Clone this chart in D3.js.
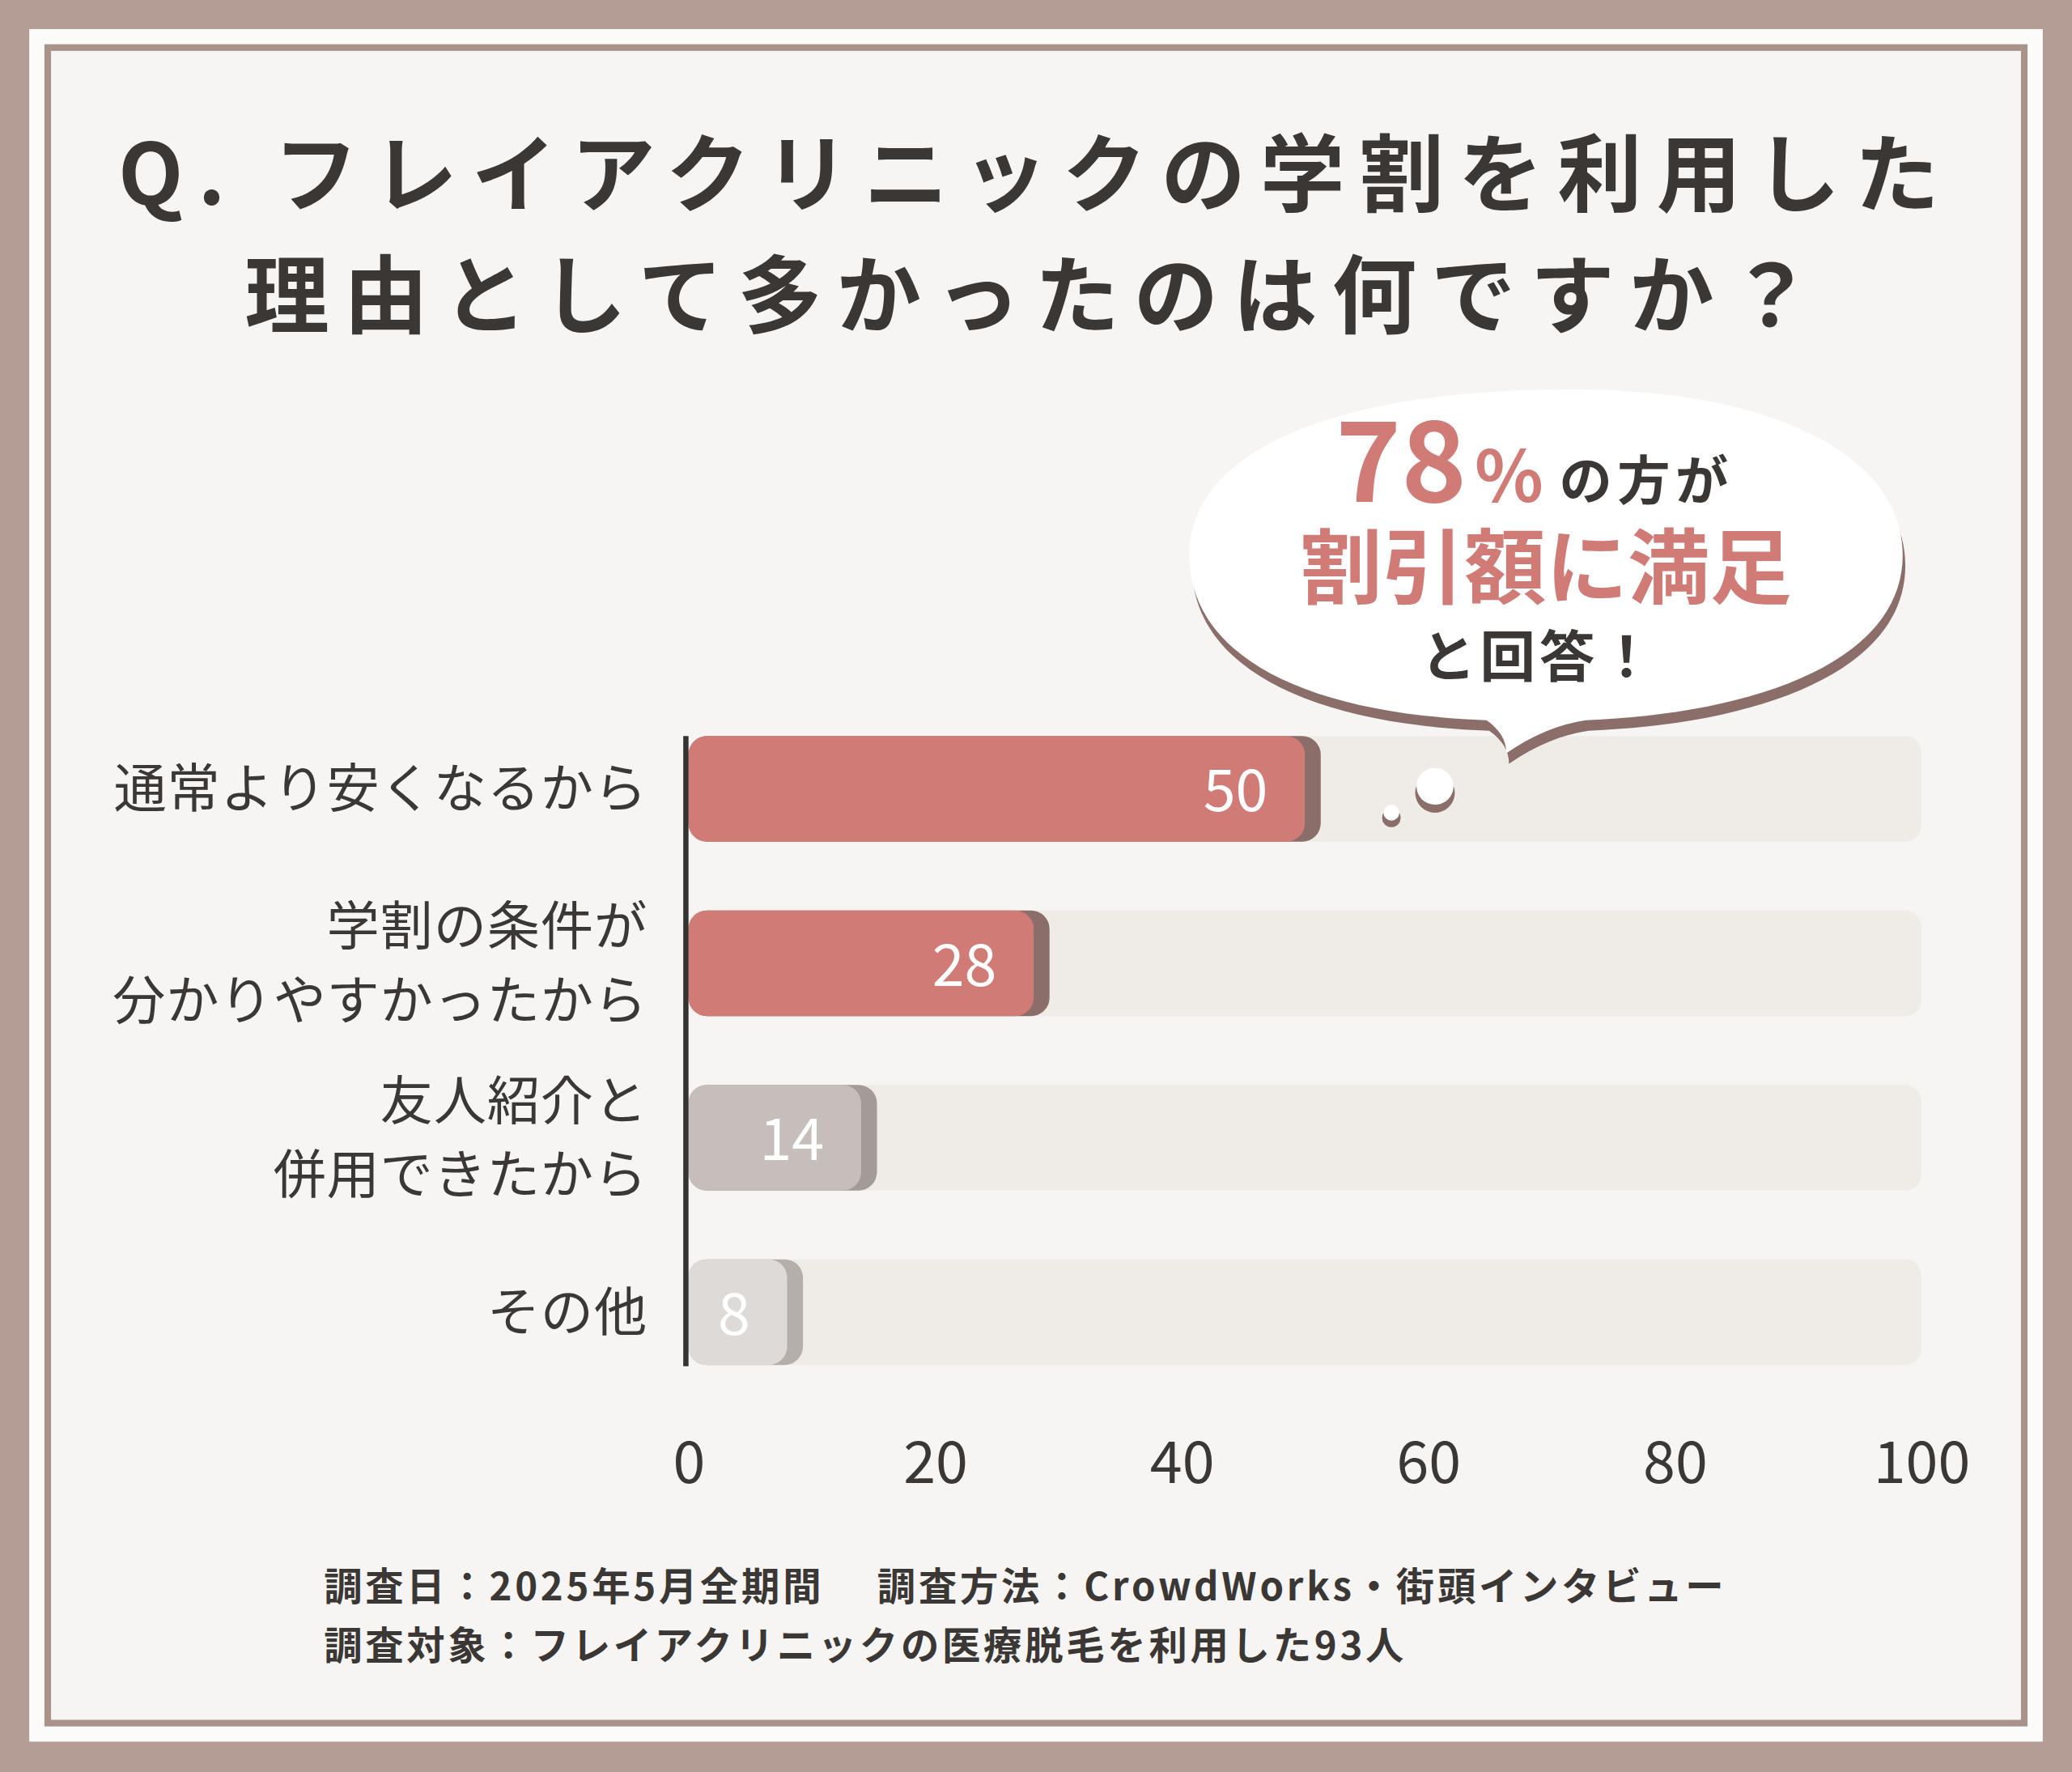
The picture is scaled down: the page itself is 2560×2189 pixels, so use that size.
<!DOCTYPE html>
<html><head><meta charset="utf-8">
<script src="https://cdn.jsdelivr.net/npm/d3@7"></script>
<style>body{margin:0;background:#b39d94}svg{display:block}</style>
</head><body>
<svg id="c" width="2560" height="2189" viewBox="0 0 1568 1341"></svg>
<script>
const categories = [["通常より安くなるから"],["学割の条件が","分かりやすかったから"],["友人紹介と","併用できたから"],["その他"]];
const values = [50, 28, 14, 8];
const barColors = ["#d07b76","#d07b76","#c6bebb","#dedad8"];
const shadowColors = ["#8b6e69","#8b6e69","#a39b98","#b5afac"];
const ticks = [0,20,40,60,80,100];
const titleLines = ["Q. フレイアクリニックの学割を利用した","理由として多かったのは何ですか？"];
const notes = ["調査日：2025年5月全期間　 調査方法：CrowdWorks・街頭インタビュー","調査対象：フレイアクリニックの医療脱毛を利用した93人"];

const svg = d3.select("#c");
const F = "'Noto Sans CJK JP','Noto Sans',sans-serif";
svg.append("rect").attr("x",0).attr("y",0).attr("width",1568).attr("height",1341).attr("fill","#b39d94");
svg.append("rect").attr("x",22).attr("y",22).attr("width",1524).attr("height",1296).attr("fill","#fbfbfa");
svg.append("rect").attr("x",36).attr("y",36).attr("width",1496).attr("height",1268).attr("fill","#f6f5f4").attr("stroke","#a8928a").attr("stroke-width",5);

svg.selectAll(".t").data(titleLines).join("text").attr("x",784).attr("y",(d,i)=>155+i*92)
 .attr("text-anchor","middle").attr("font-family",F).attr("font-weight",700).attr("font-size",64)
 .attr("letter-spacing",11).attr("fill","#3b3735").text(d=>d);

const x = d3.scaleLinear().domain([0,100]).range([521,1454]);
const bh = 80;
const yc = i => 597 + i*132;

svg.selectAll(".track").data(values).join("rect").attr("x",x(0)).attr("y",(d,i)=>yc(i)-bh/2)
 .attr("width",x(100)-x(0)).attr("height",bh).attr("rx",12).attr("fill","#efece8");
svg.selectAll(".sh").data(values).join("rect").attr("x",x(0)).attr("y",(d,i)=>yc(i)-bh/2)
 .attr("width",d=>x(d)-x(0)+12).attr("height",bh).attr("rx",14).attr("fill",(d,i)=>shadowColors[i]);
svg.selectAll(".bar").data(values).join("rect").attr("x",x(0)).attr("y",(d,i)=>yc(i)-bh/2)
 .attr("width",d=>x(d)-x(0)).attr("height",bh).attr("rx",14).attr("fill",(d,i)=>barColors[i]);
svg.selectAll(".val").data(values).join("text").attr("x",d=>x(d)-28).attr("y",(d,i)=>yc(i)+17)
 .attr("text-anchor","end").attr("font-family",F).attr("font-size",44).attr("fill","#fff").text(d=>d);

svg.append("line").attr("x1",519).attr("x2",519).attr("y1",557).attr("y2",1034).attr("stroke","#333").attr("stroke-width",4);

categories.forEach((lines,i)=>{
  const n=lines.length;
  lines.forEach((l,j)=>svg.append("text").attr("x",490).attr("y",yc(i)+14+(j-(n-1)/2)*56)
   .attr("text-anchor","end").attr("font-family",F).attr("font-size",40).attr("letter-spacing",0.5)
   .attr("fill","#3b3735").text(l));
});

const ax = svg.append("g").attr("transform","translate(0,1078)")
 .call(d3.axisBottom(x).tickValues(ticks).tickSize(0).tickPadding(0));
ax.select(".domain").remove();
ax.selectAll("text").attr("font-family",F).attr("font-size",44).attr("fill","#3b3735").attr("dy","1.0em");

svg.selectAll(".note").data(notes).join("text").attr("x",245).attr("y",(d,i)=>1211+i*45)
 .attr("font-family",F).attr("font-weight",700).attr("font-size",29).attr("letter-spacing",2.3).attr("fill","#3b3735").text(d=>d);

const bub = "M1168,295 C1330,290 1440,340 1440,420 C1440,500 1330,540 1200,545 C1180,548 1160,556 1140,570 C1140,560 1135,552 1125,545 C985,540 900,495 900,420 C900,345 1000,298 1168,295 Z";
svg.append("path").attr("d",bub).attr("fill","#8b6e69").attr("transform","translate(2,8)");
svg.append("path").attr("d",bub).attr("fill","#fff");
svg.append("circle").attr("cx",1086).attr("cy",600).attr("r",15).attr("fill","#8b6e69");
svg.append("circle").attr("cx",1086).attr("cy",595).attr("r",14).attr("fill","#fff");
svg.append("circle").attr("cx",1053).attr("cy",619).attr("r",7).attr("fill","#8b6e69");
svg.append("circle").attr("cx",1053).attr("cy",615).attr("r",6).attr("fill","#fff");

svg.append("text").attr("x",1110).attr("y",380).attr("text-anchor","end").attr("font-family",F).attr("font-weight",700)
 .attr("font-size",84).attr("fill","#d07b76").text("78");
svg.append("text").attr("x",1116).attr("y",380).attr("font-family",F).attr("font-weight",700)
 .attr("font-size",54).attr("fill","#d07b76").text("%");
svg.append("text").attr("x",1180).attr("y",378).attr("font-family",F).attr("font-weight",700)
 .attr("font-size",40).attr("letter-spacing",4).attr("fill","#3b3735").text("の方が");
svg.append("text").attr("x",1170).attr("y",452).attr("text-anchor","middle").attr("font-family",F).attr("font-weight",700)
 .attr("font-size",62).attr("fill","#d07b76").text("割引額に満足");
svg.append("text").attr("x",1165).attr("y",512).attr("text-anchor","middle").attr("font-family",F).attr("font-weight",700)
 .attr("font-size",42).attr("letter-spacing",3).attr("fill","#3b3735").text("と回答！");
</script>
</body></html>
